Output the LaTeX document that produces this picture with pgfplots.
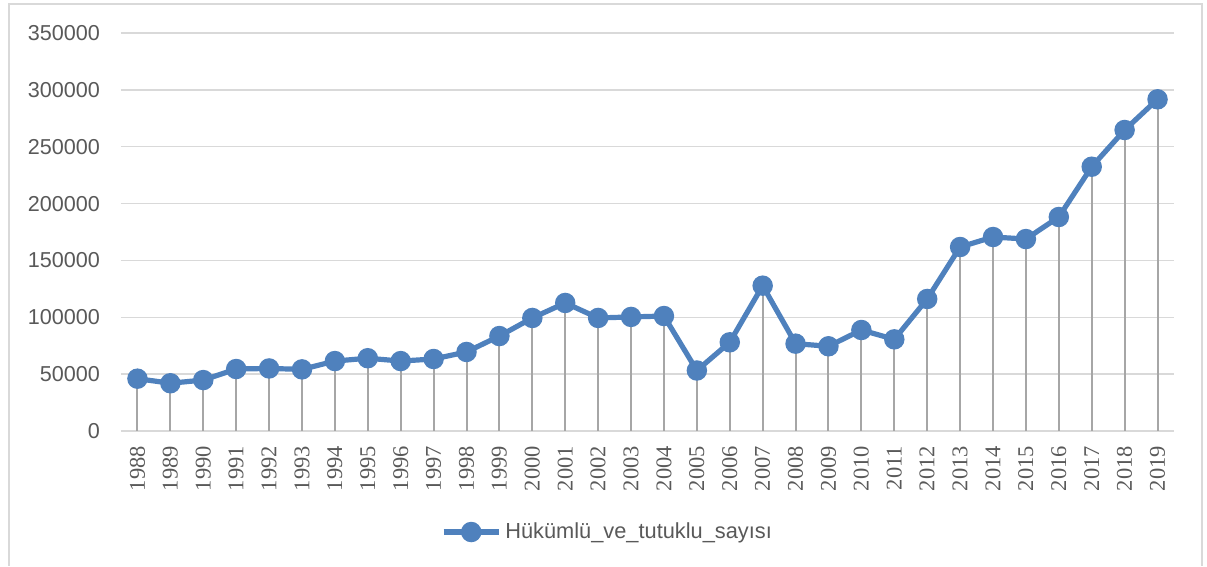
\documentclass[border=0pt]{standalone}
\usepackage{fontspec}
\setmainfont{Liberation Sans}
\newfontfamily\serif{Liberation Serif}
\usepackage{pgfplots}
\usepackage{pgfplotstable}
\pgfplotsset{compat=1.18}
\definecolor{lineblue}{RGB}{79,129,189}
\definecolor{dropgray}{RGB}{166,166,166}
\definecolor{gridgray}{RGB}{217,217,217}
\definecolor{labelgray}{RGB}{89,89,89}

\pgfplotstableread{
year value
1988 46000
1989 42000
1990 44800
1991 54500
1992 55000
1993 54200
1994 61500
1995 64000
1996 61500
1997 63300
1998 69500
1999 83500
2000 99400
2001 112600
2002 99400
2003 100300
2004 101100
2005 53200
2006 78000
2007 127800
2008 76800
2009 74500
2010 88800
2011 80600
2012 116100
2013 161800
2014 170600
2015 168800
2016 188200
2017 232400
2018 264700
2019 291700
}\prisondata

\begin{document}
\begin{tikzpicture}
\path (0,0) rectangle (603.5pt,283pt);
\draw[gridgray, line width=0.8pt] (4.5pt,0) -- (4.5pt,281pt) -- (601pt,281pt) -- (601pt,0);
\begin{axis}[
    at={(60.5pt,67.5pt)}, anchor=south west,
    scale only axis,
    width=526.5pt, height=199pt,
    xmin=1987.5, xmax=2019.5,
    ymin=0, ymax=350000,
    xtick={1988,...,2019},
    ytick={0,50000,...,350000},
    scaled y ticks=false,
    axis line style={draw=none},
    major tick length=0pt,
    ymajorgrids,
    grid style={gridgray, line width=0.75pt},
    /pgf/number format/assume math mode=true,
    /pgf/number format/.cd, fixed, 1000 sep={},
    /pgfplots/.cd,
    yticklabel style={font=\fontsize{10.8}{13}\selectfont, text=labelgray, xshift=-7pt},
    xticklabel style={font=\serif\fontsize{11.25}{13}\selectfont, text=labelgray, yshift=-4pt, rotate=90, anchor=east},
    legend style={at={(0.463,-0.2538)}, anchor=center, draw=none, fill=none,
        font=\fontsize{10.9}{13}\selectfont, text=labelgray},
    legend image code/.code={
        \draw[#1, mark repeat=2, mark phase=2] plot coordinates {(0pt,0pt) (13.75pt,0pt) (27.5pt,0pt)};
    },
    clip=false,
]
\addplot[ycomb, dropgray, line width=1pt, no marks, forget plot] table[x=year, y=value] {\prisondata};
\addplot[lineblue, line width=2.6pt, mark=*, mark size=3.8pt, mark options={solid, fill=lineblue}] table[x=year, y=value] {\prisondata};
\addlegendentry{Hükümlü\_ve\_tutuklu\_sayısı}
\end{axis}
\end{tikzpicture}
\end{document}
